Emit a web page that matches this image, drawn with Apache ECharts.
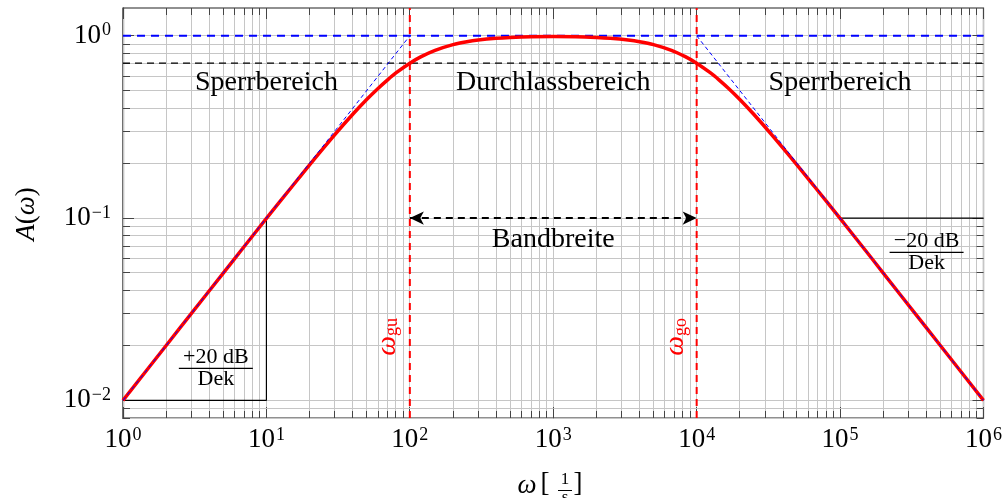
<!DOCTYPE html>
<html><head><meta charset="utf-8">
<script src="https://cdn.jsdelivr.net/npm/echarts@6/dist/echarts.min.js"></script>
<style>html,body{margin:0;padding:0;background:#fff}#c{width:1005px;height:498px}</style>
</head><body><div id="c"></div>
<script>
// ---- data ----
const omega = [1, 2, 3, 5, 7, 10, 15, 20, 30, 40, 50, 60, 70, 80, 100, 120, 150, 200, 250, 300, 400, 500, 700, 1000,
  1430, 2000, 2500, 3330, 4000, 5000, 6670, 8330, 10000, 12500, 14300, 16700, 20000, 25000, 33300, 50000, 66700,
  100000, 143000, 200000, 333000, 500000, 1000000];
const amplitude = [0.0100, 0.0200, 0.0300, 0.0499, 0.0698, 0.0995, 0.148, 0.196, 0.287, 0.371, 0.447, 0.514, 0.573, 0.625, 0.707, 0.768, 0.832, 0.894, 0.928, 0.948, 0.969, 0.979, 0.988, 0.990,
  0.988, 0.979, 0.969, 0.948, 0.928, 0.894, 0.832, 0.768, 0.707, 0.625, 0.573, 0.514, 0.447, 0.371, 0.287, 0.196, 0.148,
  0.0995, 0.0698, 0.0499, 0.0300, 0.0200, 0.0100];
const asymLow = [[1, 0.01], [100, 1]];
const asymHigh = [[10000, 1], [1000000, 0.01]];
const cornerFreqs = [100, 10000];
const passLevel = 1;
const cutLevel = 0.707;
const bandLevel = 0.1;
const slopeLeft = [[1, 0.01], [10, 0.01], [10, 0.1]];
const slopeRight = [[100000, 0.1], [1000000, 0.1]];
const xRange = [1, 1000000];
const yRange = [0.008, 1.42];
const xDecades = [0, 1, 2, 3, 4, 5, 6];
const yDecades = [-3, -2, -1, 0];
const regionLabels = ['Sperrbereich', 'Durchlassbereich', 'Sperrbereich'];
const bandLabel = 'Bandbreite';

// ---- grid / tick positions (1..9 × 10^d) ----
function gridValues(decades, range) {
  const out = [];
  decades.forEach(d => {
    for (let k = 1; k <= 9; k++) {
      const v = k * Math.pow(10, d);
      if (v >= range[0] * 0.9999 && v <= range[1] * 1.0001) out.push([v, k === 1 ? 1 : 0]);
    }
  });
  return out;
}
const xGrid = gridValues(xDecades, xRange).map(p => [p[0], yRange[0], p[1]]);
const yGrid = gridValues(yDecades, yRange).map(p => [xRange[0], p[0], p[1]]);

const FONT = '"Liberation Serif", "DejaVu Serif", serif';
const GRID_COLOR = '#c6c6c6';
const TICK_COLOR = '#444';

function snap(v) { return Math.round(v - 0.5) + 0.5; }

function expLabel(v) {
  const e = Math.log10(v);
  const r = Math.round(e);
  if (Math.abs(e - r) > 1e-6) return '';
  const s = r < 0 ? '\u2212' + (-r) : String(r);
  return '{b|10}{s|' + s + '}';
}
const labelRich = {
  b: { fontFamily: FONT, fontSize: 27, color: '#000', lineHeight: 28 },
  s: { fontFamily: FONT, fontSize: 18, color: '#000', verticalAlign: 'top', lineHeight: 20, padding: [0, 0, 8, 1] }
};

const chart = echarts.init(document.getElementById('c'), null, { renderer: 'canvas' });

const option = {
  animation: false,
  backgroundColor: '#fff',
  grid: { left: 123, right: 20, top: 8, bottom: 80, show: true, borderColor: '#222', borderWidth: 1.2, backgroundColor: 'transparent' },
  xAxis: {
    type: 'log', logBase: 10, min: xRange[0], max: xRange[1],
    axisLine: { show: true, lineStyle: { color: '#222', width: 1.2 } },
    axisTick: { show: false }, splitLine: { show: false },
    axisLabel: { formatter: expLabel, rich: labelRich, margin: 8, showMinLabel: true, showMaxLabel: true }
  },
  yAxis: {
    type: 'log', logBase: 10, min: yRange[0], max: yRange[1],
    axisLine: { show: true, lineStyle: { color: '#222', width: 1.2 } },
    axisTick: { show: false }, splitLine: { show: false },
    axisLabel: { formatter: expLabel, rich: labelRich, margin: 12 }
  },
  series: [
    {
      type: 'custom', name: 'xgrid', data: xGrid, silent: true, z: 1,
      renderItem: function (params, api) {
        const v = api.value(0);
        const top = api.coord([v, yRange[1]]);
        const bot = api.coord([v, yRange[0]]);
        const x = snap(top[0]);
        const tl = api.value(2) === 1 ? 11 : 7;
        return { type: 'group', children: [
          { type: 'line', shape: { x1: x, y1: top[1], x2: x, y2: bot[1] }, style: { stroke: GRID_COLOR, lineWidth: 1 } },
          { type: 'line', shape: { x1: x, y1: bot[1], x2: x, y2: bot[1] - tl }, style: { stroke: TICK_COLOR, lineWidth: 1 } },
          { type: 'line', shape: { x1: x, y1: top[1], x2: x, y2: top[1] + tl }, style: { stroke: TICK_COLOR, lineWidth: 1 } }
        ] };
      }
    },
    {
      type: 'custom', name: 'ygrid', data: yGrid, silent: true, z: 1,
      renderItem: function (params, api) {
        const v = api.value(1);
        const l = api.coord([xRange[0], v]);
        const r = api.coord([xRange[1], v]);
        const y = snap(l[1]);
        const tl = api.value(2) === 1 ? 11 : 7;
        return { type: 'group', children: [
          { type: 'line', shape: { x1: l[0], y1: y, x2: r[0], y2: y }, style: { stroke: GRID_COLOR, lineWidth: 1 } },
          { type: 'line', shape: { x1: l[0], y1: y, x2: l[0] + tl, y2: y }, style: { stroke: TICK_COLOR, lineWidth: 1 } },
          { type: 'line', shape: { x1: r[0], y1: y, x2: r[0] - tl, y2: y }, style: { stroke: TICK_COLOR, lineWidth: 1 } }
        ] };
      }
    },
    { type: 'line', name: 'cut', data: [[xRange[0], cutLevel], [xRange[1], cutLevel]], symbol: 'none', silent: true, z: 3,
      lineStyle: { color: '#000', width: 1.2, type: [7, 5] } },
    { type: 'line', name: 'pass', data: [[xRange[0], passLevel], [xRange[1], passLevel]], symbol: 'none', silent: true, z: 3,
      lineStyle: { color: '#0000ff', width: 2, type: [8, 6] } },
    { type: 'line', name: 'slopeL', data: slopeLeft, symbol: 'none', silent: true, z: 3,
      lineStyle: { color: '#000', width: 1.2 } },
    { type: 'line', name: 'slopeR', data: slopeRight, symbol: 'none', silent: true, z: 3,
      lineStyle: { color: '#000', width: 1.2 } },
    { type: 'line', name: 'gu', data: [[cornerFreqs[0], yRange[0]], [cornerFreqs[0], yRange[1]]], symbol: 'none', silent: true, z: 5,
      lineStyle: { color: '#ff0000', width: 2, type: [7, 5] } },
    { type: 'line', name: 'go', data: [[cornerFreqs[1], yRange[0]], [cornerFreqs[1], yRange[1]]], symbol: 'none', silent: true, z: 5,
      lineStyle: { color: '#ff0000', width: 2, type: [7, 5] } },
    { type: 'line', name: 'A', data: omega.map((w, i) => [w, amplitude[i]]), symbol: 'none', smooth: 0.3, silent: true, z: 6,
      lineStyle: { color: '#ff0000', width: 3.5 } },
    { type: 'line', name: 'asymL', data: asymLow, symbol: 'none', silent: true, z: 7,
      lineStyle: { color: '#0000ff', width: 1, type: [4, 3] } },
    { type: 'line', name: 'asymH', data: asymHigh, symbol: 'none', silent: true, z: 7,
      lineStyle: { color: '#0000ff', width: 1, type: [4, 3] } },
    { type: 'line', name: 'band', data: [], silent: true, z: 8,
      markLine: { silent: true, symbol: ['arrow', 'arrow'], symbolSize: [10, 14], label: { show: false },
        lineStyle: { color: '#000', width: 2, type: [7, 5] },
        data: [[{ coord: [cornerFreqs[0], bandLevel] }, { coord: [cornerFreqs[1], bandLevel] }]] } }
  ]
};
chart.setOption(option);

// ---- annotations, anchored in data coordinates ----
function px(p) { return chart.convertToPixel({ gridIndex: 0 }, p); }
function txt(p, text, size, italic) {
  return { type: 'text', x: p[0], y: p[1], z: 100, silent: true,
    style: { text: text, fontFamily: FONT, fontSize: size, fontStyle: italic ? 'italic' : 'normal', fill: '#000',
      align: 'center', verticalAlign: 'middle', textAlign: 'center', textVerticalAlign: 'middle' } };
}
const pL = px([10, 0.551]), pM = px([1000, 0.551]), pR = px([100000, 0.551]);
const pB = px([1000, 0.0759]);
const pGu = px([69.9, 0.0223]), pGo = px([7180, 0.0223]);
const pF1 = px([4.44, 0.01506]), pF2 = px([401000, 0.0652]);

function fraction(p, top) {
  return [
    txt([p[0], p[1] - 11], top, 22),
    { type: 'line', z: 100, silent: true, shape: { x1: p[0] - 37, y1: p[1] + 0.5, x2: p[0] + 37, y2: p[1] + 0.5 }, style: { stroke: '#000', lineWidth: 1.2 } },
    txt([p[0], p[1] + 11], 'Dek', 22)
  ];
}
const subRich = {
  w: { fontFamily: FONT, fontSize: 28, fontStyle: 'italic', fill: '#ff0000', color: '#ff0000' },
  s: { fontFamily: FONT, fontSize: 18, fill: '#ff0000', color: '#ff0000', verticalAlign: 'bottom', padding: [8, 0, 0, 0] }
};
function rotSub(p, sub) {
  return { type: 'text', x: p[0], y: p[1], rotation: Math.PI / 2, z: 100, silent: true,
    style: { text: '{w|\u03c9}{s|' + sub + '}', rich: subRich, fill: '#ff0000', align: 'center', verticalAlign: 'middle', textAlign: 'center', textVerticalAlign: 'middle' } };
}
const graphics = [
  txt(pL, regionLabels[0], 28), txt(pM, regionLabels[1], 28), txt(pR, regionLabels[2], 28),
  txt(pB, bandLabel, 28),
  rotSub(pGu, 'gu'), rotSub(pGo, 'go')
].concat(fraction(pF1, '+20 dB'), fraction(pF2, '\u221220 dB'));

// axis names
graphics.push({ type: 'text', x: 27, y: 214, rotation: Math.PI / 2, silent: true,
  style: { text: '{i|A}{n|(}{i|\u03c9}{n|)}', align: 'center', verticalAlign: 'middle', textAlign: 'center', textVerticalAlign: 'middle',
    rich: { i: { fontFamily: FONT, fontSize: 27, fontStyle: 'italic', color: '#000' }, n: { fontFamily: FONT, fontSize: 27, color: '#000' } } } });
graphics.push(txt([527, 486], '\u03c9', 27, true));
graphics.push(txt([545, 484], '[', 27));
graphics.push(txt([565, 480], '1', 17));
graphics.push({ type: 'line', silent: true, shape: { x1: 558, y1: 490.5, x2: 572, y2: 490.5 }, style: { stroke: '#000', lineWidth: 1 } });
graphics.push(txt([565, 498], 's', 17));
graphics.push(txt([578, 484], ']', 27));

chart.setOption({ graphic: graphics });
</script>
</body></html>
